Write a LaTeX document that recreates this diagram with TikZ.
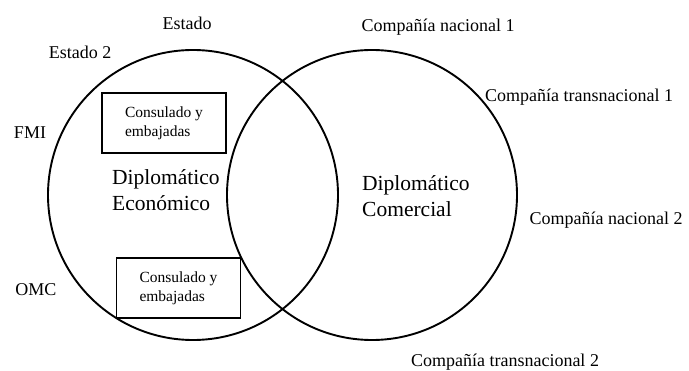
\documentclass[tikz,border=0pt]{standalone}
\usepackage{fontspec}
\setmainfont{Liberation Serif}
\begin{document}
\begin{tikzpicture}[x=1pt,y=-1pt,
  lbl/.style={inner sep=0pt, font=\fontsize{18}{22}\selectfont},
  big/.style={inner sep=0pt, align=left, anchor=west, font=\fontsize{21.5}{26}\selectfont},
  ring/.style={circle, draw, line width=1.9pt, minimum size=290pt, inner sep=0pt},
  boxnode/.style={draw, line width=1.4pt, minimum width=124pt, minimum height=60pt, align=left, inner sep=0pt, font=\fontsize{15.5}{19}\selectfont}]
\useasboundingbox (0,0) rectangle (689,371);
\node[ring] (L) at (193,195) {};
\node[ring] (R) at (372,195) {};
\node[boxnode] (b1) at (164,123) {Consulado y\\embajadas};
\node[boxnode] (b2) at (178.5,288) {Consulado y\\embajadas};
\node[big] (de) at (112,190) {Diplomático\\Económico};
\node[big] (dc) at (362,196) {Diplomático\\Comercial};
\node[lbl] (e1) at (187,23) {Estado};
\node[lbl] (e2) at (80,52) {Estado 2};
\node[lbl] (fmi) at (30,133) {FMI};
\node[lbl] (omc) at (36,290) {OMC};
\node[lbl] (c1) at (438,27) {Compañía nacional 1};
\node[lbl] (t1) at (579,97) {Compañía transnacional 1};
\node[lbl] (c2) at (606,220) {Compañía nacional 2};
\node[lbl] (t2) at (505,362) {Compañía transnacional 2};
\end{tikzpicture}
\end{document}
